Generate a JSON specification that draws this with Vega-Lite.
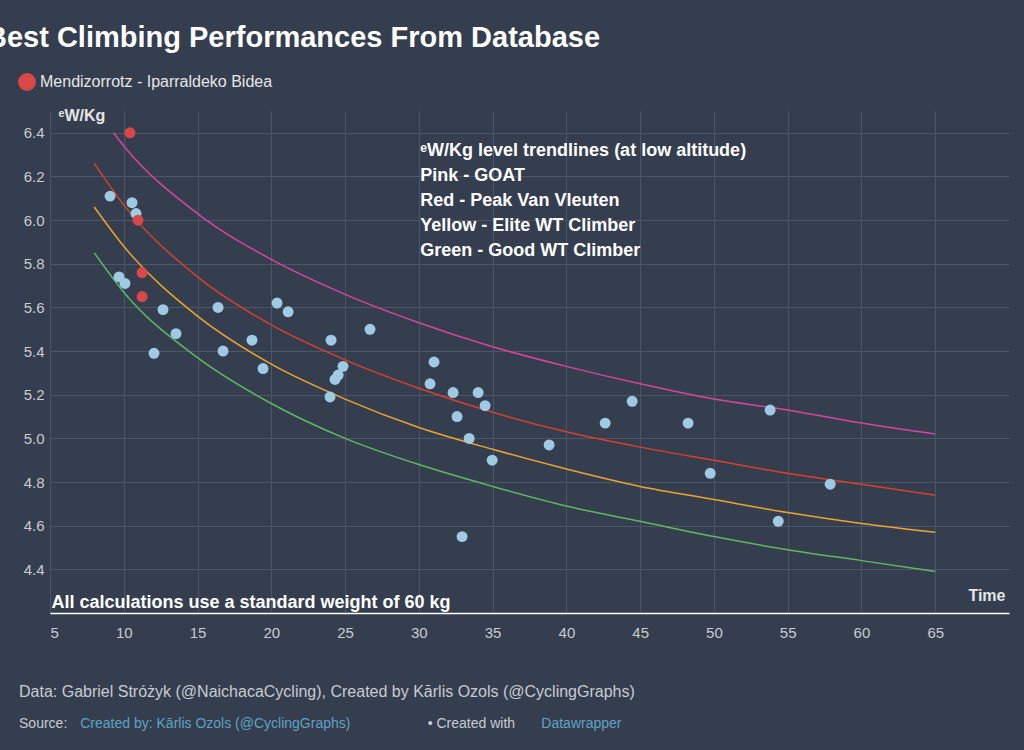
{
  "$schema": "https://vega.github.io/schema/vega-lite/v6.json",
  "autosize": {"type": "none"},
  "width": 959,
  "height": 502,
  "padding": {"left": 50, "top": 111, "right": 15, "bottom": 137},
  "background": "#343e4e",
  "config": {"view": {"stroke": null}, "font": "Liberation Sans"},
  "title": {"text": "Best Climbing Performances From Database", "anchor": "start", "dx": -32, "offset": 20, "fontSize": 29, "fontWeight": "bold", "color": "white", "font": "Liberation Sans"},
  "datasets": {
    "points": [
      {"t": 9.07, "w": 6.11, "s": "Other"}, {"t": 10.56, "w": 6.08, "s": "Other"}, {"t": 10.83, "w": 6.03, "s": "Other"},
      {"t": 9.68, "w": 5.74, "s": "Other"}, {"t": 10.08, "w": 5.71, "s": "Other"}, {"t": 12.66, "w": 5.59, "s": "Other"},
      {"t": 12.05, "w": 5.39, "s": "Other"}, {"t": 13.54, "w": 5.48, "s": "Other"}, {"t": 16.39, "w": 5.6, "s": "Other"},
      {"t": 16.73, "w": 5.4, "s": "Other"}, {"t": 18.69, "w": 5.45, "s": "Other"}, {"t": 19.44, "w": 5.32, "s": "Other"},
      {"t": 20.39, "w": 5.62, "s": "Other"}, {"t": 21.14, "w": 5.58, "s": "Other"}, {"t": 24.05, "w": 5.45, "s": "Other"},
      {"t": 23.98, "w": 5.19, "s": "Other"}, {"t": 24.32, "w": 5.27, "s": "Other"}, {"t": 24.53, "w": 5.29, "s": "Other"},
      {"t": 24.86, "w": 5.33, "s": "Other"}, {"t": 26.69, "w": 5.5, "s": "Other"}, {"t": 30.76, "w": 5.25, "s": "Other"},
      {"t": 31.03, "w": 5.35, "s": "Other"}, {"t": 32.32, "w": 5.21, "s": "Other"}, {"t": 32.59, "w": 5.1, "s": "Other"},
      {"t": 33.41, "w": 5.0, "s": "Other"}, {"t": 34.02, "w": 5.21, "s": "Other"}, {"t": 34.49, "w": 5.15, "s": "Other"},
      {"t": 34.97, "w": 4.9, "s": "Other"}, {"t": 38.83, "w": 4.97, "s": "Other"}, {"t": 42.63, "w": 5.07, "s": "Other"},
      {"t": 44.46, "w": 5.17, "s": "Other"}, {"t": 48.25, "w": 5.07, "s": "Other"}, {"t": 49.75, "w": 4.84, "s": "Other"},
      {"t": 53.81, "w": 5.13, "s": "Other"}, {"t": 54.36, "w": 4.62, "s": "Other"}, {"t": 57.88, "w": 4.79, "s": "Other"},
      {"t": 32.93, "w": 4.55, "s": "Other"},
      {"t": 10.42, "w": 6.4, "s": "Mendizorrotz - Iparraldeko Bidea"}, {"t": 10.97, "w": 6.0, "s": "Mendizorrotz - Iparraldeko Bidea"},
      {"t": 11.24, "w": 5.76, "s": "Mendizorrotz - Iparraldeko Bidea"}, {"t": 11.24, "w": 5.65, "s": "Mendizorrotz - Iparraldeko Bidea"}
    ],
    "trends": [
      {"t": 9.3, "w": 6.4, "c": "pink"}, {"t": 10, "w": 6.34, "c": "pink"}, {"t": 15, "w": 6.03, "c": "pink"}, {"t": 20, "w": 5.82, "c": "pink"},
      {"t": 25, "w": 5.66, "c": "pink"}, {"t": 30, "w": 5.53, "c": "pink"}, {"t": 35, "w": 5.42, "c": "pink"}, {"t": 40, "w": 5.33, "c": "pink"},
      {"t": 45, "w": 5.25, "c": "pink"}, {"t": 50, "w": 5.18, "c": "pink"}, {"t": 55, "w": 5.13, "c": "pink"}, {"t": 60, "w": 5.07, "c": "pink"}, {"t": 65, "w": 5.02, "c": "pink"},
      {"t": 8, "w": 6.26, "c": "red"}, {"t": 10, "w": 6.07, "c": "red"}, {"t": 15, "w": 5.74, "c": "red"}, {"t": 20, "w": 5.52, "c": "red"},
      {"t": 25, "w": 5.36, "c": "red"}, {"t": 30, "w": 5.23, "c": "red"}, {"t": 35, "w": 5.12, "c": "red"}, {"t": 40, "w": 5.03, "c": "red"},
      {"t": 45, "w": 4.96, "c": "red"}, {"t": 50, "w": 4.9, "c": "red"}, {"t": 55, "w": 4.84, "c": "red"}, {"t": 60, "w": 4.79, "c": "red"}, {"t": 65, "w": 4.74, "c": "red"},
      {"t": 8, "w": 6.06, "c": "yellow"}, {"t": 10, "w": 5.88, "c": "yellow"}, {"t": 15, "w": 5.56, "c": "yellow"}, {"t": 20, "w": 5.34, "c": "yellow"},
      {"t": 25, "w": 5.18, "c": "yellow"}, {"t": 30, "w": 5.05, "c": "yellow"}, {"t": 35, "w": 4.95, "c": "yellow"}, {"t": 40, "w": 4.86, "c": "yellow"},
      {"t": 45, "w": 4.78, "c": "yellow"}, {"t": 50, "w": 4.72, "c": "yellow"}, {"t": 55, "w": 4.66, "c": "yellow"}, {"t": 60, "w": 4.61, "c": "yellow"}, {"t": 65, "w": 4.57, "c": "yellow"},
      {"t": 8, "w": 5.85, "c": "green"}, {"t": 10, "w": 5.67, "c": "green"}, {"t": 15, "w": 5.37, "c": "green"}, {"t": 20, "w": 5.16, "c": "green"},
      {"t": 25, "w": 5.0, "c": "green"}, {"t": 30, "w": 4.88, "c": "green"}, {"t": 35, "w": 4.78, "c": "green"}, {"t": 40, "w": 4.69, "c": "green"},
      {"t": 45, "w": 4.62, "c": "green"}, {"t": 50, "w": 4.55, "c": "green"}, {"t": 55, "w": 4.49, "c": "green"}, {"t": 60, "w": 4.44, "c": "green"}, {"t": 65, "w": 4.39, "c": "green"}
    ],
    "foot": [
      {"t": 2.9, "w": 3.84, "txt": "Data: Gabriel Stróżyk (@NaichacaCycling), Created by Kārlis Ozols (@CyclingGraphs)", "c": "#c8ccd2", "st": "italic", "fw": "normal", "fs": 16},
      {"t": 2.9, "w": 3.69, "txt": "Source:", "c": "#c8ccd2", "st": "normal", "fw": "normal", "fs": 14},
      {"t": 7.05, "w": 3.69, "txt": "Created by: Kārlis Ozols (@CyclingGraphs)", "c": "#5fa3c4", "st": "normal", "fw": "bold", "fs": 14},
      {"t": 30.6, "w": 3.69, "txt": "• Created with", "c": "#c8ccd2", "st": "normal", "fw": "normal", "fs": 14},
      {"t": 38.3, "w": 3.69, "txt": "Datawrapper", "c": "#5fa3c4", "st": "normal", "fw": "bold", "fs": 14}
    ]
  },
  "layer": [
    {
      "data": {"name": "trends"},
      "mark": {"type": "line", "strokeWidth": 1.5, "interpolate": "monotone"},
      "encoding": {
        "x": {"field": "t", "type": "quantitative", "scale": {"domain": [5, 70], "nice": false},
          "axis": {"values": [5,10,15,20,25,30,35,40,45,50,55,60,65], "title": "Time", "titleAnchor": "end", "titleAlign": "right", "titleBaseline": "bottom", "titleY": -10, "titleX": 955, "titleColor": "#e6e6e6", "titleFontSize": 16, "titleFontWeight": "bold",
            "labelColor": "#c8ccd2", "labelFontSize": 15, "labelPadding": 12, "domainColor": "#ffffff", "domainWidth": 1.5, "ticks": false, "gridColor": "#4c5666", "grid": true}},
        "y": {"field": "w", "type": "quantitative", "scale": {"domain": [4.2, 6.5], "nice": false},
          "axis": {"values": [4.4,4.6,4.8,5.0,5.2,5.4,5.6,5.8,6.0,6.2,6.4], "format": ".1f", "title": "ᵉW/Kg", "titleAngle": 0, "titleAlign": "left", "titleX": 8, "titleY": 12, "titleColor": "#e6e6e6", "titleFontSize": 16, "titleFontWeight": "bold",
            "labelColor": "#c8ccd2", "labelFontSize": 15, "domain": false, "ticks": false, "labelPadding": 6, "gridColor": "#4c5666"}},
        "color": {"field": "c", "type": "nominal", "scale": {"domain": ["pink", "red", "yellow", "green"], "range": ["#d8449c", "#d9402c", "#f0a22e", "#5db860"]}, "legend": null},
        "detail": {"field": "c"}
      }
    },
    {
      "data": {"name": "points"},
      "mark": {"type": "circle", "size": 120, "opacity": 1},
      "encoding": {
        "x": {"field": "t", "type": "quantitative"},
        "y": {"field": "w", "type": "quantitative"},
        "fill": {"field": "s", "type": "nominal", "scale": {"domain": ["Mendizorrotz - Iparraldeko Bidea", "Other"], "range": ["#d94848", "#9ecae3"]},
          "legend": {"orient": "none", "legendX": -32, "legendY": -38, "title": null, "values": ["Mendizorrotz - Iparraldeko Bidea"], "symbolType": "circle", "symbolSize": 320, "labelColor": "#e6e6e6", "labelFontSize": 16, "symbolStrokeWidth": 0, "labelLimit": 400}}
      }
    },
    {
      "data": {"values": [{"t": 30.1, "w": 6.36, "txt": ["ᵉW/Kg level trendlines (at low altitude)", "Pink - GOAT", "Red - Peak Van Vleuten", "Yellow - Elite WT Climber", "Green - Good WT Climber"]}]},
      "mark": {"type": "text", "align": "left", "baseline": "top", "color": "white", "fontWeight": "bold", "fontSize": 18, "lineHeight": 25},
      "encoding": {
        "x": {"field": "t", "type": "quantitative"},
        "y": {"field": "w", "type": "quantitative"},
        "text": {"field": "txt"}
      }
    },
    {
      "data": {"values": [{"t": 5.1, "w": 4.205, "txt": "All calculations use a standard weight of 60 kg"}]},
      "mark": {"type": "text", "align": "left", "baseline": "bottom", "color": "white", "fontWeight": "bold", "fontSize": 18},
      "encoding": {
        "x": {"field": "t", "type": "quantitative"},
        "y": {"field": "w", "type": "quantitative"},
        "text": {"field": "txt"}
      }
    },
    {
      "data": {"name": "foot"},
      "mark": {"type": "text", "align": "left", "baseline": "middle"},
      "encoding": {
        "x": {"field": "t", "type": "quantitative"},
        "y": {"field": "w", "type": "quantitative"},
        "text": {"field": "txt"},
        "color": {"field": "c", "type": "nominal", "scale": null},
        "fontStyle": {"field": "st", "type": "nominal", "scale": null},
        "fontWeight": {"field": "fw", "type": "nominal", "scale": null},
        "size": {"field": "fs", "type": "quantitative", "scale": null}
      }
    }
  ]
}
